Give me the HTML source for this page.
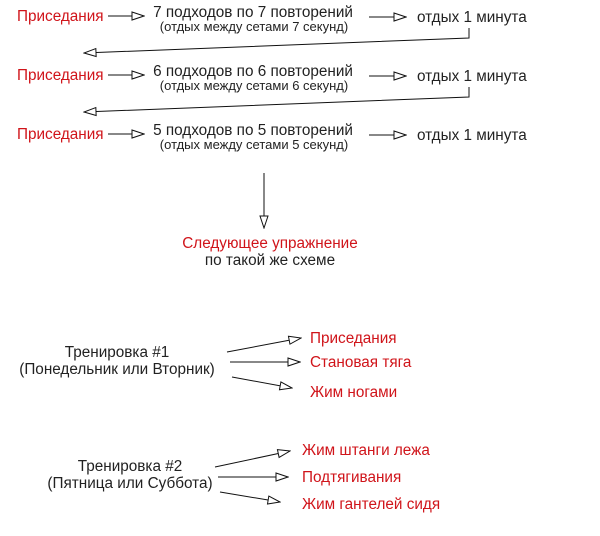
<!DOCTYPE html>
<html><head><meta charset="utf-8"><style>
html,body{margin:0;padding:0;background:#fff;}
svg{display:block}
text{font-family:"Liberation Sans","DejaVu Sans",sans-serif;}
.r{fill:#d0141a;font-size:15.3px}
.b{fill:#222;font-size:15.3px}
.s{fill:#222;font-size:13px}
line,polyline{stroke:#111;stroke-width:1;fill:none}
</style></head><body>
<svg width="600" height="536" viewBox="0 0 600 536" xmlns="http://www.w3.org/2000/svg">
<defs>
<marker id="a" markerWidth="14" markerHeight="10" refX="13" refY="5" orient="auto" markerUnits="userSpaceOnUse">
<path d="M1,1 L13,5 L1,9 Z" fill="#fff" stroke="#111" stroke-width="1"/>
</marker>
</defs>
<g>
<text class="r" x="17" y="21">Приседания</text>
<line x1="108" y1="16" x2="144" y2="16" marker-end="url(#a)"/>
<text class="b" x="253" y="17" text-anchor="middle">7 подходов по 7 повторений</text>
<text class="s" x="254" y="31" text-anchor="middle">(отдых между сетами 7 секунд)</text>
<line x1="369" y1="17" x2="406" y2="17" marker-end="url(#a)"/>
<text class="b" x="417" y="22">отдых 1 минута</text>
<polyline points="469,28 469,38 84,53" marker-end="url(#a)"/>

<text class="r" x="17" y="80">Приседания</text>
<line x1="108" y1="75" x2="144" y2="75" marker-end="url(#a)"/>
<text class="b" x="253" y="76" text-anchor="middle">6 подходов по 6 повторений</text>
<text class="s" x="254" y="90" text-anchor="middle">(отдых между сетами 6 секунд)</text>
<line x1="369" y1="76" x2="406" y2="76" marker-end="url(#a)"/>
<text class="b" x="417" y="81">отдых 1 минута</text>
<polyline points="469,87 469,97 84,112" marker-end="url(#a)"/>

<text class="r" x="17" y="139">Приседания</text>
<line x1="108" y1="134" x2="144" y2="134" marker-end="url(#a)"/>
<text class="b" x="253" y="135" text-anchor="middle">5 подходов по 5 повторений</text>
<text class="s" x="254" y="149" text-anchor="middle">(отдых между сетами 5 секунд)</text>
<line x1="369" y1="135" x2="406" y2="135" marker-end="url(#a)"/>
<text class="b" x="417" y="140">отдых 1 минута</text>

<line x1="264" y1="173" x2="264" y2="228" marker-end="url(#a)"/>
<text class="r" x="270" y="248" text-anchor="middle">Следующее упражнение</text>
<text class="b" x="270" y="265" text-anchor="middle">по такой же схеме</text>

<text class="b" x="117" y="357" text-anchor="middle">Тренировка #1</text>
<text class="b" x="117" y="374" text-anchor="middle">(Понедельник или Вторник)</text>
<line x1="227" y1="352" x2="301" y2="338" marker-end="url(#a)"/>
<line x1="230" y1="362" x2="300" y2="362" marker-end="url(#a)"/>
<line x1="232" y1="377" x2="292" y2="388" marker-end="url(#a)"/>
<text class="r" x="310" y="343">Приседания</text>
<text class="r" x="310" y="367">Становая тяга</text>
<text class="r" x="310" y="397">Жим ногами</text>

<text class="b" x="130" y="471" text-anchor="middle">Тренировка #2</text>
<text class="b" x="130" y="488" text-anchor="middle">(Пятница или Суббота)</text>
<line x1="215" y1="467" x2="290" y2="451" marker-end="url(#a)"/>
<line x1="218" y1="477" x2="288" y2="477" marker-end="url(#a)"/>
<line x1="220" y1="492" x2="280" y2="502" marker-end="url(#a)"/>
<text class="r" x="302" y="455">Жим штанги лежа</text>
<text class="r" x="302" y="482">Подтягивания</text>
<text class="r" x="302" y="509">Жим гантелей сидя</text>
</g>
</svg>
</body></html>
